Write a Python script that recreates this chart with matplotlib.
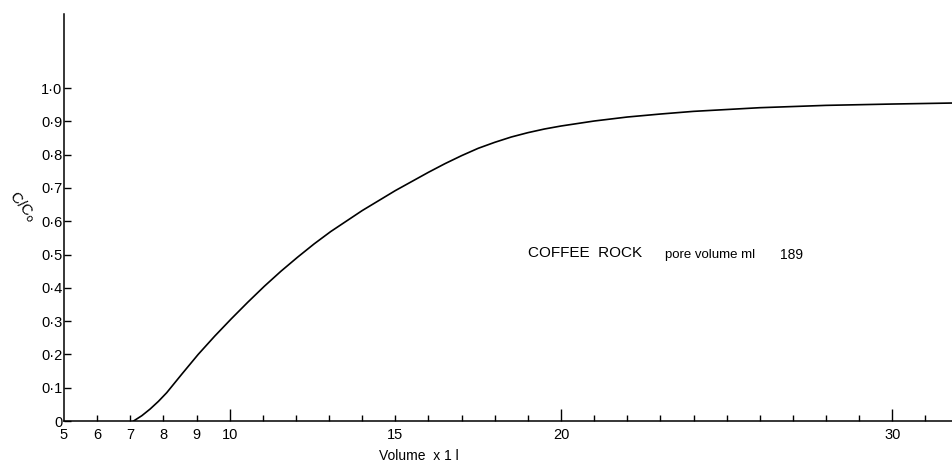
import matplotlib
matplotlib.use("Agg")
import matplotlib.pyplot as plt

# breakthrough curve
volume = [7.1, 7.35, 7.6, 7.85, 8.1, 8.55, 9.05, 9.55, 10.05, 10.55, 11.05, 11.55, 12.05, 12.55, 13.05,
          14.0, 15.0, 16.0, 16.5, 17.0, 17.5, 18.0, 18.5, 19.0, 19.5, 20.0, 21.0, 22.0, 23.0, 24.0,
          26.0, 28.0, 30.0, 31.8]
conc = [0.0, 0.016, 0.036, 0.059, 0.085, 0.14, 0.2, 0.255, 0.307, 0.357, 0.405, 0.45, 0.492, 0.532, 0.569,
        0.632, 0.692, 0.747, 0.773, 0.797, 0.819, 0.837, 0.853, 0.866, 0.877, 0.886, 0.901, 0.913, 0.922, 0.93,
        0.941, 0.948, 0.952, 0.955]

x_ticks = list(range(5, 32))
x_labelled = {5: "5", 6: "6", 7: "7", 8: "8", 9: "9", 10: "10", 15: "15", 20: "20", 30: "30"}
y_ticks = [round(0.1 * i, 1) for i in range(11)]
y_labels = ["0", "0·1", "0·2", "0·3", "0·4", "0·5", "0·6", "0·7", "0·8", "0·9", "1·0"]

plt.rcParams["font.family"] = ["Liberation Sans", "DejaVu Sans"]

fig = plt.figure(figsize=(9.52, 4.65), dpi=100)
ax = fig.add_axes([0.0672, 0.0946, 0.9328, 0.875])

ax.plot(volume, conc, color="black", lw=1.2, solid_joinstyle="round")

ax.set_xlim(5.0, 31.8)
ax.set_ylim(0, 1.222)

for side in ("top", "right"):
    ax.spines[side].set_visible(False)
for side in ("left", "bottom"):
    ax.spines[side].set_linewidth(1.1)

ax.set_xticks(x_ticks)
ax.set_xticklabels([x_labelled.get(v, "") for v in x_ticks])
ax.tick_params(axis="x", direction="in", length=4.5, width=1.0, pad=5, labelsize=10.5)
for v, tick in zip(x_ticks, ax.xaxis.get_major_ticks()):
    if v == 5:
        tick.tick1line.set_markersize(0)
    elif v in (10, 20, 30):
        tick.tick1line.set_markersize(9)

ax.set_yticks(y_ticks)
ax.set_yticklabels(y_labels)
ax.tick_params(axis="y", direction="in", length=5, width=1.0, pad=1, labelsize=10.5)

ax.text(15.72, -0.085, "Volume  x 1 l", fontsize=10, ha="center", va="top", clip_on=False)
fig.text(0.024, 0.555, "C/C$_\\mathrm{o}$", fontsize=11, rotation=-50,
         ha="center", va="center")

ax.text(19.0, 0.505, "COFFEE  ROCK", fontsize=11, va="center")
ax.text(23.15, 0.5, "pore volume ml", fontsize=9.5, va="center")
ax.text(26.6, 0.5, "189", fontsize=10, va="center")

fig.savefig("out.png", dpi=100)
